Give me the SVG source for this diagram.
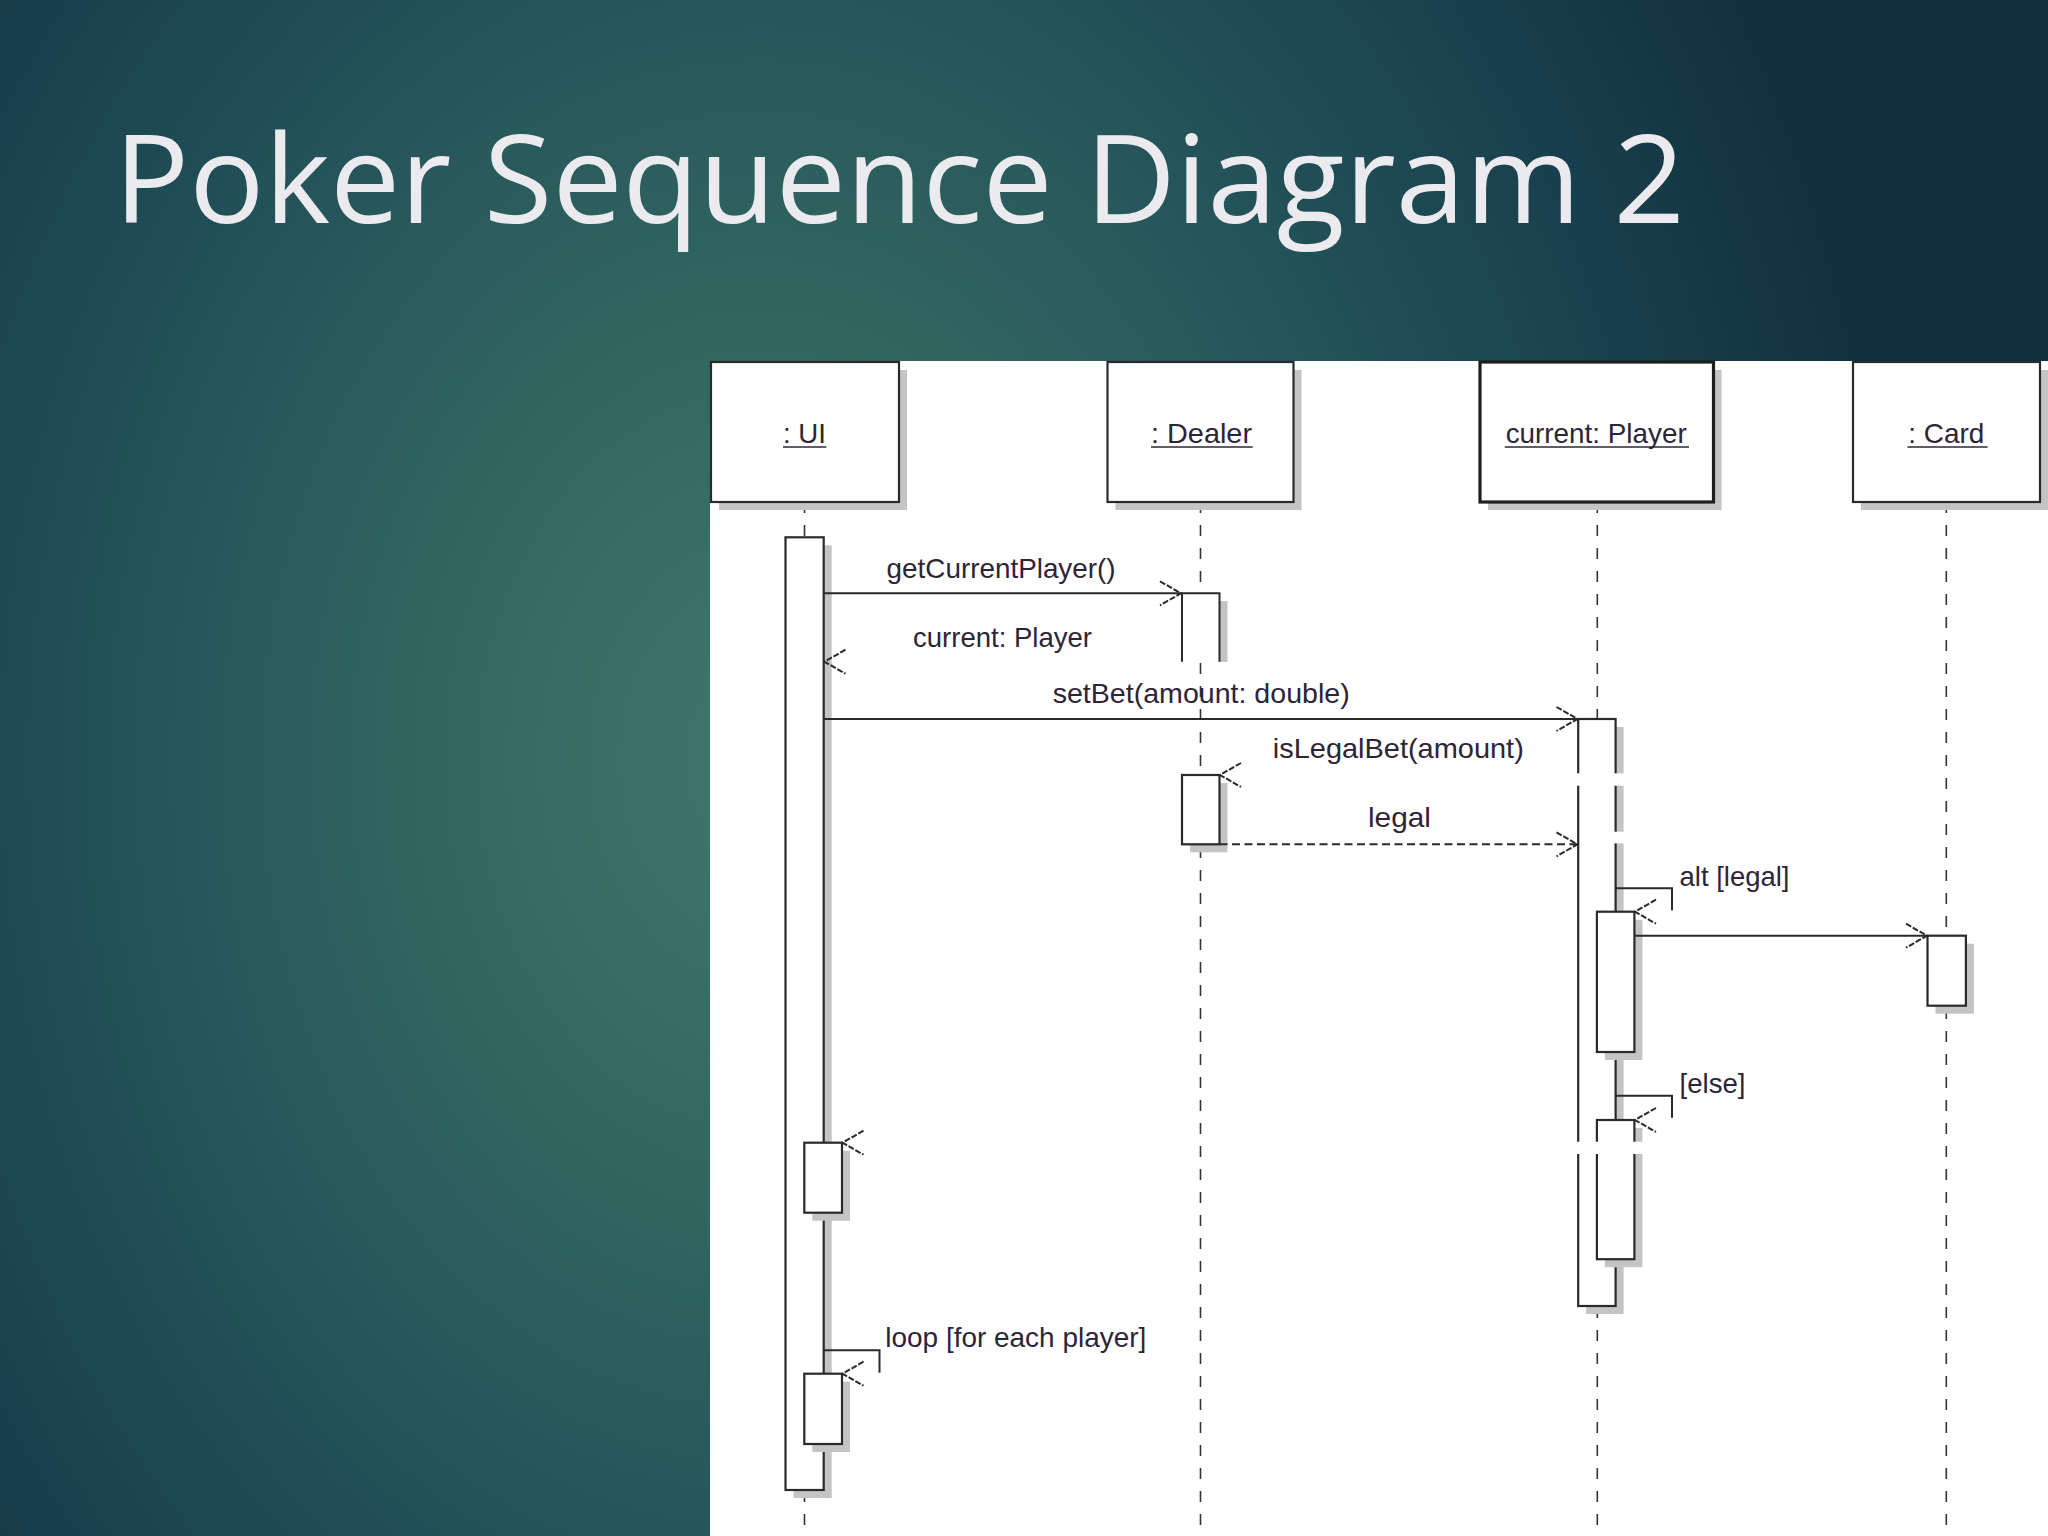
<svg xmlns="http://www.w3.org/2000/svg" width="2048" height="1536" viewBox="0 0 2048 1536">
<style>
.title{font-family:"Open Sans","Liberation Sans",sans-serif;font-weight:400;font-size:122px;fill:#ebebef}
.box{fill:#fff;stroke:#2a2a2a;stroke-width:2.2}
.boxsel{fill:#fff;stroke:#1e1e1e;stroke-width:3.2}
.sh{fill:#c4c4c4}
.act{fill:#fff;stroke:#2a2a2a;stroke-width:2.2}
.hd{font-family:"Liberation Sans",Arial,sans-serif;font-size:28px;fill:#2e2438}
.msg{font-family:"Liberation Sans",Arial,sans-serif;font-size:28px;fill:#2e2438}
.ul{stroke:#2e2438;stroke-width:1.6}
.ll{stroke:#333;stroke-width:1.6;stroke-dasharray:11 12;fill:none}
.line{stroke:#2a2a2a;stroke-width:2;fill:none}
.ret{stroke:#2a2a2a;stroke-width:2;stroke-dasharray:8 4.5;fill:none}
.ah{stroke:#2a2a2a;stroke-width:2;stroke-dasharray:6 1.8;fill:none}
.gap{fill:#fff}
</style>
<defs>
<radialGradient id="bg" gradientUnits="userSpaceOnUse" cx="760" cy="760" r="1150" gradientTransform="translate(760 760) scale(1 1.3) translate(-760 -760)">
<stop offset="0" stop-color="#3f786a"/>
<stop offset="0.3" stop-color="#316660"/>
<stop offset="0.55" stop-color="#245359"/>
<stop offset="0.8" stop-color="#183f4d"/>
<stop offset="1" stop-color="#11303e"/>
</radialGradient>
<path id="ahR" d="M-21,-12 L0,0 L-21,12"/>
<path id="ahL" d="M21,-12 L0,0 L21,12"/>
</defs>

<rect x="0" y="0" width="2048" height="1536" fill="url(#bg)"/>
<text class="title" x="114" y="223" textLength="1571" lengthAdjust="spacingAndGlyphs">Poker Sequence Diagram 2</text>

<rect id="panel" x="710" y="361" width="1338" height="1175" fill="#fff"/>

<g id="lifelines">
<line class="ll" x1="804.5" y1="502" x2="804.5" y2="1536"/>
<line class="ll" x1="1200.5" y1="502" x2="1200.5" y2="1536"/>
<line class="ll" x1="1597.3" y1="502" x2="1597.3" y2="1536"/>
<line class="ll" x1="1946.3" y1="502" x2="1946.3" y2="1536"/>
</g>

<g id="node-ui">
<rect class="sh" x="719" y="370" width="188" height="140"/>
<rect class="box" x="711" y="362" width="188" height="140"/>
<text class="hd" x="783" y="443" textLength="43" lengthAdjust="spacingAndGlyphs">: UI</text>
<line class="ul" x1="783" y1="447" x2="826.3" y2="447"/>
</g>
<g id="node-dealer">
<rect class="sh" x="1115.5" y="370" width="186" height="140"/>
<rect class="box" x="1107.5" y="362" width="186" height="140"/>
<text class="hd" x="1151" y="443" textLength="101" lengthAdjust="spacingAndGlyphs">: Dealer</text>
<line class="ul" x1="1151" y1="447" x2="1252.7" y2="447"/>
</g>
<g id="node-player">
<rect class="sh" x="1488" y="370" width="233.5" height="140"/>
<rect class="boxsel" x="1480" y="362" width="233.5" height="140"/>
<text class="hd" x="1505.7" y="443" textLength="181" lengthAdjust="spacingAndGlyphs">current: Player</text>
<line class="ul" x1="1504.8" y1="447" x2="1689" y2="447"/>
</g>
<g id="node-card">
<rect class="sh" x="1861" y="370" width="187" height="140"/>
<rect class="box" x="1853" y="362" width="187" height="140"/>
<text class="hd" x="1908.3" y="443" textLength="76" lengthAdjust="spacingAndGlyphs">: Card</text>
<line class="ul" x1="1907.5" y1="447" x2="1987.6" y2="447"/>
</g>

<g id="act-ui-main">
<rect class="sh" x="793.5" y="545.3" width="38.2" height="952.7"/>
<rect class="act" x="785.5" y="537.3" width="38.2" height="952.7"/>
</g>
<g id="act-dealer-1">
<rect class="sh" x="1219.5" y="601" width="8" height="61"/>
<rect fill="#fff" x="1182" y="593.3" width="37.5" height="68.4"/>
<path class="line" stroke-width="2.2" d="M1182,661.7 V593.3 H1219.5 V661.7"/>
</g>
<g id="act-dealer-2">
<rect class="sh" x="1190" y="783" width="37.5" height="69.3"/>
<rect class="act" x="1182" y="775" width="37.5" height="69.3"/>
</g>
<g id="act-player-main">
<rect class="sh" x="1586.2" y="727" width="37.4" height="587"/>
<rect class="act" x="1578.2" y="719" width="37.4" height="587"/>
</g>
<g id="act-player-alt">
<rect class="sh" x="1604.9" y="919.7" width="37.5" height="140.3"/>
<rect class="act" x="1596.9" y="911.7" width="37.5" height="140.3"/>
</g>
<g id="act-player-else">
<rect class="sh" x="1604.9" y="1128" width="37.5" height="139.2"/>
<rect class="act" x="1596.9" y="1120" width="37.5" height="139.2"/>
</g>
<g id="act-card">
<rect class="sh" x="1935.5" y="943.7" width="38.4" height="70"/>
<rect class="act" x="1927.5" y="935.7" width="38.4" height="70"/>
</g>
<g id="act-ui-self">
<rect class="sh" x="812.3" y="1150.7" width="37.7" height="70"/>
<rect class="act" x="804.3" y="1142.7" width="37.7" height="70"/>
</g>
<g id="act-ui-loop">
<rect class="sh" x="812.3" y="1381.7" width="37.7" height="70.3"/>
<rect class="act" x="804.3" y="1373.7" width="37.7" height="70.3"/>
</g>

<g id="gaps">
<rect class="gap" x="1570" y="773.3" width="62" height="12.4"/>
<rect class="gap" x="1610" y="831.7" width="20" height="11.6"/>
<rect class="gap" x="1570" y="1141.7" width="76" height="12.3"/>
</g>

<g id="connectors">
<line class="line" x1="823.7" y1="593.3" x2="1182" y2="593.3"/>
<use class="ah" href="#ahR" x="1181" y="593.3"/>
<text class="msg" x="886.6" y="577.7" textLength="229" lengthAdjust="spacingAndGlyphs">getCurrentPlayer()</text>

<use class="ah" href="#ahL" x="824.5" y="661.7"/>
<text class="msg" x="913" y="646.7" textLength="179" lengthAdjust="spacingAndGlyphs">current: Player</text>

<line class="line" x1="823.7" y1="719" x2="1578.2" y2="719"/>
<use class="ah" href="#ahR" x="1577.5" y="719"/>
<text class="msg" x="1052.7" y="703.3" textLength="297" lengthAdjust="spacingAndGlyphs">setBet(amount: double)</text>

<use class="ah" href="#ahL" x="1220" y="775"/>
<text class="msg" x="1272.8" y="758.3" textLength="251" lengthAdjust="spacingAndGlyphs">isLegalBet(amount)</text>

<line class="ret" x1="1219.5" y1="844.3" x2="1578" y2="844.3"/>
<use class="ah" href="#ahR" x="1577.5" y="844.3"/>
<text class="msg" x="1368" y="827.3" textLength="63" lengthAdjust="spacingAndGlyphs">legal</text>

<path class="line" d="M1615.6,888.3 H1672 V910.3"/>
<use class="ah" href="#ahL" x="1635" y="911.7"/>
<text class="msg" x="1679.5" y="886" textLength="110" lengthAdjust="spacingAndGlyphs">alt [legal]</text>

<line class="line" x1="1634.4" y1="935.7" x2="1927.5" y2="935.7"/>
<use class="ah" href="#ahR" x="1927" y="935.7"/>

<path class="line" d="M1615.6,1095.7 H1672 V1117.7"/>
<use class="ah" href="#ahL" x="1635" y="1120"/>
<text class="msg" x="1679.5" y="1093.4" textLength="66" lengthAdjust="spacingAndGlyphs">[else]</text>

<use class="ah" href="#ahL" x="842.5" y="1142.7"/>

<path class="line" d="M823.7,1350.2 H879.5 V1372.8"/>
<use class="ah" href="#ahL" x="842.5" y="1373.7"/>
<text class="msg" x="885.3" y="1347" textLength="261" lengthAdjust="spacingAndGlyphs">loop [for each player]</text>
</g>
</svg>
